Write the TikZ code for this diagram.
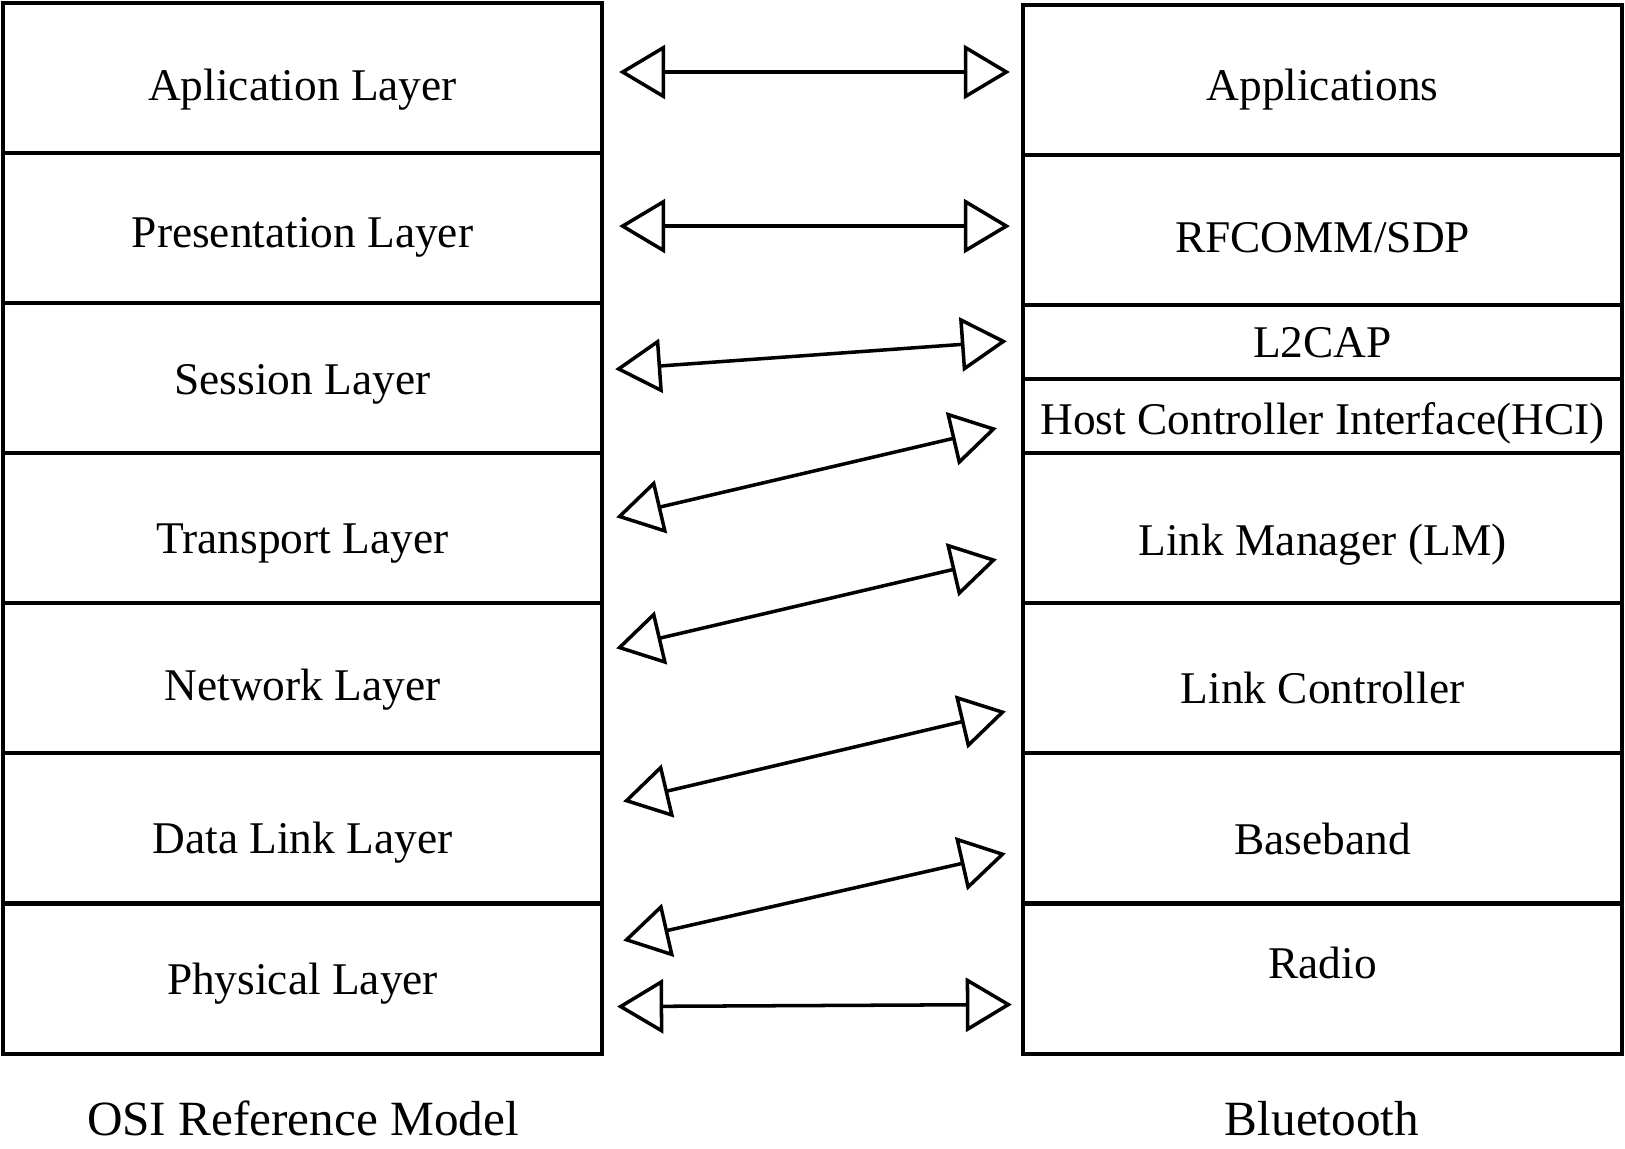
\documentclass[tikz,border=0pt]{standalone}
\usepackage{fontspec}
\setmainfont{Liberation Serif}
\usepackage{tikz}
\usetikzlibrary{arrows.meta,positioning,calc}

\begin{document}
\begin{tikzpicture}[
    x=0.01cm, y=-0.01cm,
    layer/.style={rectangle, draw=black, line width=1.15pt, outer sep=0pt,
                  minimum width=5.99cm, minimum height=1.5cm, inner sep=0pt,
                  text height=12.6pt, text depth=0pt,
                  font=\fontsize{12.9pt}{15pt}\selectfont},
    thin layer/.style={layer, minimum height=0.74cm},
    title/.style={font=\fontsize{14pt}{17pt}\selectfont, inner sep=0pt, anchor=base},
    link/.style={line width=1pt, {Triangle[open, length=0.46cm, width=0.54cm]}-{Triangle[open, length=0.46cm, width=0.54cm]}}
]
\useasboundingbox (0,0) rectangle (1625,1148);

% OSI stack
\node[layer] (osi1) at (302.5, 78) {Aplication Layer};
\node[layer, below=0pt of osi1, text height=10.9pt] (osi2) {Presentation Layer};
\node[layer, below=0pt of osi2, text height=9.2pt] (osi3) {Session Layer};
\node[layer, below=0pt of osi3, text height=14.3pt] (osi4) {Transport Layer};
\node[layer, below=0pt of osi4] (osi5) {Network Layer};
\node[layer, below=0pt of osi5, text height=14.3pt] (osi6) {Data Link Layer};
\node[layer, below=0pt of osi6, text height=9.2pt] (osi7) {Physical Layer};

% Bluetooth stack
\node[layer, text height=11.5pt] (bt1) at (1322.5, 80) {Applications};
\node[layer, below=0pt of bt1] (bt2) {RFCOMM/SDP};
\node[thin layer, below=0pt of bt2, text height=8.6pt] (bt3) {L2CAP};
\node[thin layer, below=0pt of bt3, text height=10.3pt] (bt4) {Host Controller Interface(HCI)};
\node[layer, below=0pt of bt4, text height=15.4pt] (bt5) {Link Manager (LM)};
\node[layer, below=0pt of bt5, text height=14.3pt] (bt6) {Link Controller};
\node[layer, below=0pt of bt6, text height=14.9pt] (bt7) {Baseband};
\node[layer, below=0pt of bt7, text depth=12.6pt] (bt8) {Radio};

% Mappings
\draw[link] ($(osi1.east)+(17,-6)$) -- ($(bt1.west)+(-13,-8)$);
\draw[link] ($(osi2.east)+(17,-2)$) -- ($(bt2.west)+(-13,-4)$);
\draw[link] ($(osi3.east)+(13,-9)$) -- ($(bt3.west)+(-16,-1)$);
\draw[link] ($(osi4.east)+(14,-11)$) -- ($(bt4.west)+(-26,12)$);
\draw[link] ($(osi5.east)+(14,-30)$) -- ($(bt5.west)+(-26,31)$);
\draw[link] ($(osi6.east)+(21,-27)$) -- ($(bt6.west)+(-17,33)$);
\draw[link] ($(osi7.east)+(21,-38)$) -- ($(bt7.west)+(-17,25)$);
\draw[link] ($(osi7.east)+(15,28)$) -- ($(bt8.west)+(-11,26)$);

% Captions
\node[title] (osiname) at (303, 1135) {OSI Reference Model};
\node[title] (btname) at (1322, 1135) {Bluetooth};

\end{tikzpicture}
\end{document}
